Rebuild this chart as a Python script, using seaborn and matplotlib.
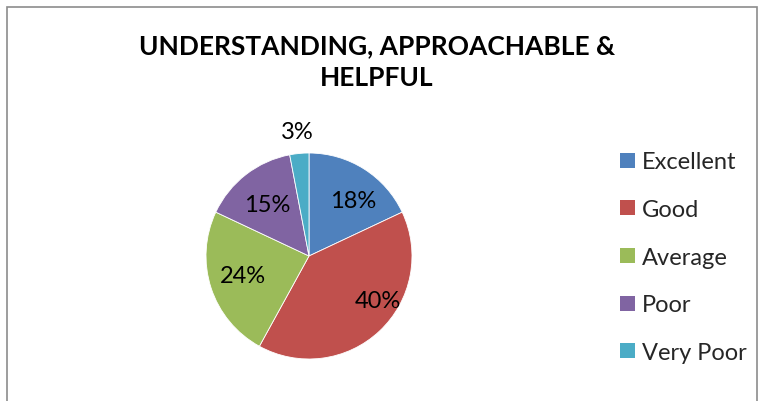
import numpy as np
import matplotlib
matplotlib.use("Agg")
import matplotlib.pyplot as plt
import matplotlib.patches as mpatches
import seaborn as sns

# Dados do gráfico
categorias = ["Excellent", "Good", "Average", "Poor", "Very Poor"]
percentuais = [18, 40, 24, 15, 3]
cores = ["#4F81BD", "#C0504D", "#9BBB59", "#8064A2", "#4BACC6"]
titulo = "UNDERSTANDING, APPROACHABLE &\nHELPFUL"

sns.set_theme(style="white")
plt.rcParams["font.family"] = ["Lato", "DejaVu Sans"]

fig = plt.figure(figsize=(7.62, 4.02), dpi=100)
fig.patch.set_facecolor("white")

# Moldura da área do gráfico (cinza, aberta embaixo)
fig.add_artist(mpatches.Rectangle(
    (7 / 762, -0.05), 750 / 762, 1.05 - 8 / 402,
    transform=fig.transFigure, fill=False, edgecolor="#8c8c8c", linewidth=1.2
))

fig.text(377 / 762, 1 - 62 / 402, titulo, ha="center", va="center",
         fontsize=19, fontweight="bold", color="black", linespacing=1.4)

ax = fig.add_axes([(309 - 103) / 762, (145 - 103) / 402, 206 / 762, 206 / 402])
wedges, textos, autotextos = ax.pie(
    percentuais, colors=cores, startangle=90, counterclock=False,
    autopct="%d%%", pctdistance=0.68,
    wedgeprops={"edgecolor": "white", "linewidth": 0.6},
    textprops={"fontsize": 17, "color": "black"},
)
ax.set_xlim(-1, 1)
ax.set_ylim(-1, 1)
ax.set_aspect("equal")

# Posição de cada rótulo: distância ao centro e desvio angular (o menor fica fora)
distancias = [0.69, 0.80, 0.67, 0.64, 1.21]
desvios = [-6.5, 14, -2, 1, 0]
for w, t, d, a in zip(wedges, autotextos, distancias, desvios):
    ang = np.deg2rad((w.theta1 + w.theta2) / 2 + a)
    t.set_position((d * np.cos(ang), d * np.sin(ang)))

handles = [mpatches.Patch(facecolor=c, edgecolor="none", label=l)
           for c, l in zip(cores, categorias)]
fig.legend(handles=handles, loc="upper left",
           bbox_to_anchor=(611 / 762, 1 - 143 / 402),
           frameon=False, fontsize=17, handlelength=0.6, handleheight=0.6,
           handletextpad=0.3, labelspacing=1.13, borderaxespad=0)

fig.savefig("out.png", dpi=100, facecolor="white")
